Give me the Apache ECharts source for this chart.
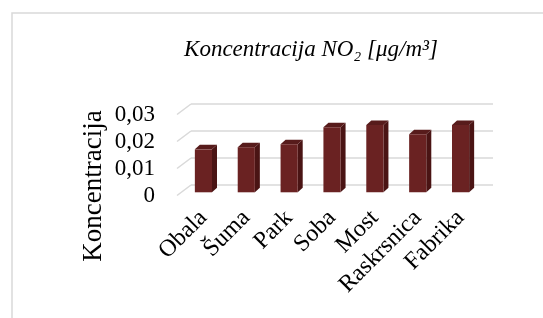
<!DOCTYPE html>
<html>
<head>
<meta charset="utf-8">
<script src="https://cdn.jsdelivr.net/npm/echarts@6/dist/echarts.min.js"></script>
<style>html,body{margin:0;padding:0;background:#fff}#c{width:543px;height:318px}</style>
</head>
<body>
<div id="c"></div>
<script>
var categories = ['Obala', 'Šuma', 'Park', 'Soba', 'Most', 'Raskrsnica', 'Fabrika'];
var values = [0.0159, 0.0167, 0.0178, 0.0241, 0.0249, 0.0215, 0.0249];
var yTicks = [0, 0.01, 0.02, 0.03];
var titleText = 'Koncentracija NO\u2082 [\u03bcg/m\u00b3]';
var yName = 'Koncentracija';

var FONT = '"Liberation Serif", "Times New Roman", serif';
var FRONT = '#6a2222', SIDE = '#4a1414', TOP = '#571b1b';
var DX = 5, DY = -4.5;          // bar depth
var WX = 14, WY = -10.5;        // wall depth

var chart = echarts.init(document.getElementById('c'), null, {renderer: 'canvas'});

function barItem(params, api) {
  var x = api.value(0), v = api.value(1);
  var t = api.coord([x, v]);
  var b = api.coord([x, 0]);
  var bw = api.size([1, 0])[0] * 0.4;
  var l = t[0] - bw / 2, r = t[0] + bw / 2;
  return {type: 'group', children: [
    {type: 'polygon', shape: {points: [[r, t[1]], [r + DX, t[1] + DY], [r + DX, b[1] + DY], [r, b[1]]]}, style: {fill: SIDE}},
    {type: 'polygon', shape: {points: [[l, t[1]], [l + DX, t[1] + DY], [r + DX, t[1] + DY], [r, t[1]]]}, style: {fill: TOP}},
    {type: 'rect', shape: {x: l, y: t[1], width: bw, height: b[1] - t[1]}, style: {fill: FRONT}}
  ]};
}

function diagItem(params, api) {
  var y = api.coord([0, api.value(1)])[1];
  var x0 = params.coordSys.x;
  return {type: 'line', shape: {x1: x0, y1: y, x2: x0 - WX, y2: y - WY},
    style: {stroke: '#d9d9d9', lineWidth: 1.5}};
}

var option = {
  animation: false,
  backgroundColor: '#fff',
  title: {
    text: titleText, left: 306, top: 33, textAlign: 'center',
    textStyle: {fontFamily: FONT, fontStyle: 'italic', fontWeight: 'normal', fontSize: 23, color: '#000'}
  },
  graphic: [{
    type: 'rect', shape: {x: 12, y: 13, width: 600, height: 400},
    style: {fill: 'none', stroke: '#d9d9d9', lineWidth: 1.5}, silent: true
  }, {
    type: 'text', rotation: Math.PI / 2, x: 80, y: 186,
    style: {text: yName, fontFamily: FONT, fontSize: 27, fill: '#000', align: 'center', verticalAlign: 'top'}
  }],
  grid: [
    {left: 191, top: 104, width: 302, height: 81},
    {left: 177, top: 114.5, width: 302, height: 81},
    {left: 182, top: 111.3, width: 300, height: 81}
  ],
  xAxis: [
    {gridIndex: 0, type: 'category', data: categories, show: false},
    {gridIndex: 1, type: 'category', data: categories, show: false},
    {gridIndex: 2, type: 'category', data: categories,
      axisLine: {show: false}, axisTick: {show: false},
      axisLabel: {rotate: 45, margin: 22, interval: 0, fontFamily: FONT, fontSize: 24, color: '#000'}}
  ],
  yAxis: [
    {gridIndex: 0, type: 'value', min: 0, max: 0.03, interval: 0.01,
      axisLabel: {show: false}, axisLine: {show: false}, axisTick: {show: false},
      splitLine: {show: true, lineStyle: {color: '#d9d9d9', width: 1.5}}},
    {gridIndex: 1, type: 'value', min: 0, max: 0.03, interval: 0.01,
      axisLine: {show: false}, axisTick: {show: false}, splitLine: {show: false},
      axisLabel: {margin: 22, fontFamily: FONT, fontSize: 23, color: '#000',
        formatter: function (v) { return String(v).replace('.', ','); }}},
    {gridIndex: 2, type: 'value', min: 0, max: 0.03, interval: 0.01, show: false, splitLine: {show: false}}
  ],
  series: [
    {type: 'custom', xAxisIndex: 0, yAxisIndex: 0, renderItem: diagItem,
      data: yTicks.map(function (v) { return [0, v]; }), silent: true},
    {type: 'custom', xAxisIndex: 2, yAxisIndex: 2, renderItem: barItem,
      data: values.map(function (v, i) { return [i, v]; }), silent: true}
  ]
};
chart.setOption(option);
</script>
</body>
</html>
